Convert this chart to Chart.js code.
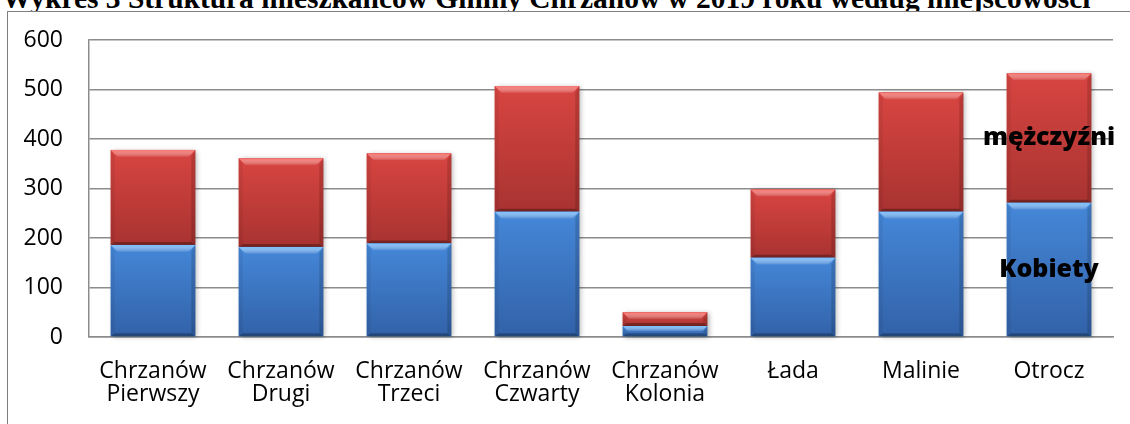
<!DOCTYPE html>
<html>
<head>
<meta charset="utf-8">
<script src="https://cdn.jsdelivr.net/npm/chart.js@4.4.0/dist/chart.umd.min.js"></script>
<style>
    body { margin: 0; width: 1130px; height: 424px; overflow: hidden; background: #fff; position: relative; }
    #title { position: absolute; left: 2px; top: -17px; font: bold 30px "Liberation Serif", "Times New Roman", serif; line-height: 30px; white-space: nowrap; transform-origin: 0 0; color: #000; }
    #box { position: absolute; left: 7px; top: 11px; width: 1130px; height: 430px; border: 1px solid #7f7f7f; background: #fff; }
    #wrap { position: absolute; left: 0; top: 0; width: 1130px; height: 424px; }
</style>
</head>
<body>
<div id="title">Wykres 3 Struktura mieszkańców Gminy Chrzanów w 2019 roku według miejscowości</div>
<div id="box"></div>
<div id="wrap"><canvas id="popChart" width="1130" height="424"></canvas></div>
<script>
const categories = [
    ['Chrzanów', 'Pierwszy'],
    ['Chrzanów', 'Drugi'],
    ['Chrzanów', 'Trzeci'],
    ['Chrzanów', 'Czwarty'],
    ['Chrzanów', 'Kolonia'],
    'Łada',
    'Malinie',
    'Otrocz'
];
const kobiety = [186, 182, 189, 253, 22, 160, 253, 271];
const mezczyzni = [192, 179, 182, 254, 28, 138, 241, 262];
const yTicks = [0, 100, 200, 300, 400, 500, 600];

// stretch the title to the width it has in the picture
const titleEl = document.getElementById('title');
titleEl.style.transform = 'scaleX(' + (1088 / titleEl.offsetWidth) + ')';

const palettes = {
    blue: { top: '#4587d8', bottom: '#3262a8', light: 'rgba(125,195,255,0.95)' },
    red: { top: '#d84541', bottom: '#a83331', light: 'rgba(250,120,115,0.95)' }
};

function poly(ctx, pts, color) {
    ctx.beginPath();
    ctx.moveTo(pts[0][0], pts[0][1]);
    for (let i = 1; i < pts.length; i++) ctx.lineTo(pts[i][0], pts[i][1]);
    ctx.closePath();
    ctx.fillStyle = color;
    ctx.fill();
}

// bevelled 3D look on every bar
const bevelPlugin = {
    id: 'bevel',
    afterDatasetDraw(chart, args) {
        const ctx = chart.ctx;
        const pal = palettes[chart.data.datasets[args.index].paletteName];
        args.meta.data.forEach(el => {
            const p = el.getProps(['x', 'y', 'base', 'width'], true);
            const l = p.x - p.width / 2, r = p.x + p.width / 2;
            const t = Math.min(p.y, p.base), b = Math.max(p.y, p.base);
            const d = Math.min(7, (b - t) / 2);
            const s = Math.min(4, (b - t) / 3);
            const bb = Math.min(3, (b - t) / 3);
            ctx.save();
            ctx.shadowColor = 'rgba(0,0,0,0.3)';
            ctx.shadowBlur = 5;
            ctx.shadowOffsetX = 2;
            ctx.shadowOffsetY = 1;
            const g = ctx.createLinearGradient(0, t, 0, b);
            g.addColorStop(0, pal.top);
            g.addColorStop(1, pal.bottom);
            ctx.fillStyle = g;
            ctx.fillRect(l, t, r - l, b - t);
            ctx.restore();
            const tg = ctx.createLinearGradient(0, t, 0, t + d);
            tg.addColorStop(0, pal.light);
            tg.addColorStop(1, 'rgba(255,255,255,0.05)');
            poly(ctx, [[l, t], [r, t], [r - d, t + d], [l + d, t + d]], tg);
            poly(ctx, [[l, t], [l + s, t + d], [l + s, b - bb], [l, b]], 'rgba(0,0,0,0.06)');
            poly(ctx, [[r, t], [r - s, t + d], [r - s, b - bb], [r, b]], 'rgba(0,0,0,0.14)');
            poly(ctx, [[l, b], [l + s, b - bb], [r - s, b - bb], [r, b]], 'rgba(0,0,0,0.28)');
        });
    }
};

// series names written on the last bar
const seriesLabelPlugin = {
    id: 'seriesLabel',
    afterDatasetsDraw(chart) {
        const ctx = chart.ctx;
        ctx.save();
        ctx.font = '800 25px "Open Sans"';
        ctx.fillStyle = '#000';
        ctx.textAlign = 'center';
        ctx.textBaseline = 'middle';
        chart.data.datasets.forEach((ds, i) => {
            const meta = chart.getDatasetMeta(i);
            const el = meta.data[meta.data.length - 1];
            ctx.fillText(ds.label, el.x, (el.y + el.base) / 2);
        });
        ctx.restore();
    }
};

new Chart(document.getElementById('popChart').getContext('2d'), {
    type: 'bar',
    data: {
        labels: categories,
        datasets: [{
            label: 'Kobiety',
            data: kobiety,
            backgroundColor: '#3c74c0',
            paletteName: 'blue',
            borderWidth: 0
        }, {
            label: 'mężczyźni',
            data: mezczyzni,
            backgroundColor: '#c03b38',
            paletteName: 'red',
            borderWidth: 0
        }]
    },
    options: {
        responsive: false,
        animation: false,
        devicePixelRatio: 1,
        layout: { padding: { left: 0, top: 40, right: 17, bottom: 0 } },
        datasets: { bar: { barPercentage: 0.66, categoryPercentage: 1 } },
        scales: {
            x: {
                stacked: true,
                grid: { display: false },
                border: { display: true, color: '#8c8c8c', width: 1.5 },
                ticks: {
                    color: '#000',
                    font: { family: 'Open Sans', size: 23, lineHeight: 1.04 },
                    padding: 14,
                    maxRotation: 0,
                    autoSkip: false
                },
                afterFit(s) { s.height = 87; }
            },
            y: {
                stacked: true,
                min: 0,
                max: 600,
                afterBuildTicks(s) { s.ticks = yTicks.map(v => ({ value: v })); },
                ticks: {
                    color: '#000',
                    font: { family: 'Open Sans', size: 23 },
                    padding: 26
                },
                grid: { color: '#8c8c8c', lineWidth: 1.5, drawTicks: false },
                border: { display: true, color: '#8c8c8c', width: 1.5 },
                afterFit(s) { s.width = 89; }
            }
        },
        plugins: {
            legend: { display: false },
            tooltip: { enabled: false }
        }
    },
    plugins: [bevelPlugin, seriesLabelPlugin]
});
</script>
</body>
</html>
